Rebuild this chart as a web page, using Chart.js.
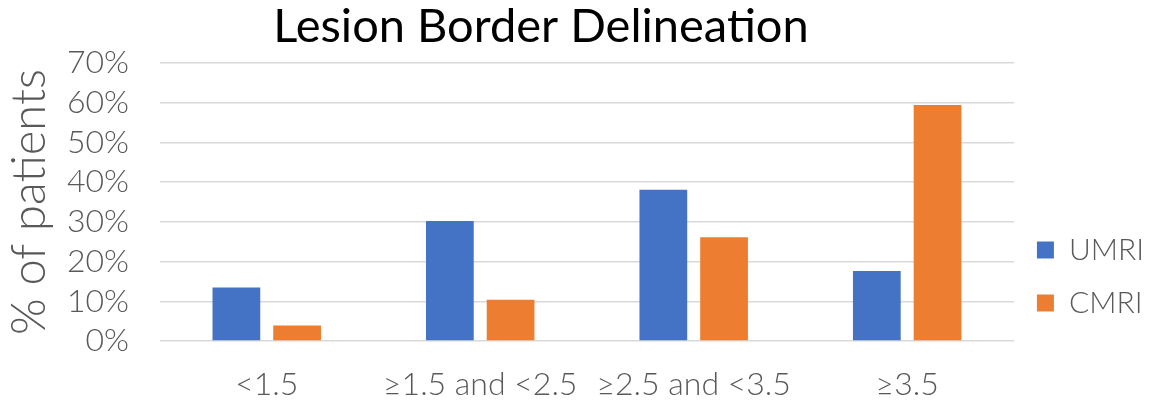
<!DOCTYPE html>
<html>
<head>
<meta charset="utf-8">
<script src="https://cdn.jsdelivr.net/npm/chart.js@4/dist/chart.umd.min.js"></script>
<style>
  html, body { margin: 0; padding: 0; background: #fff; }
  #wrap { width: 1150px; height: 401px; }
</style>
</head>
<body>
<div id="wrap"><canvas id="c" width="1150" height="401"></canvas></div>
<script>
// Border score categories and share of patients (%) per imaging method
const categories = ['<1.5', '\u22651.5 and <2.5', '\u22652.5 and <3.5', '\u22653.5'];
const umri = [13.5, 30.2, 38.1, 17.6];
const cmri = [3.9, 10.4, 26.1, 59.4];
const yTicks = [0, 10, 20, 30, 40, 50, 60, 70];
const chartTitle = 'Lesion Border Delineation';

const GRAY = '#595959';

// Title drawn left of the full-width centre, as in the original layout
const offsetTitle = {
  id: 'offsetTitle',
  afterDraw(chart) {
    const ctx = chart.ctx;
    ctx.save();
    ctx.font = '400 47px Lato';
    ctx.fillStyle = '#000';
    ctx.textAlign = 'center';
    ctx.textBaseline = 'alphabetic';
    ctx.fillText(chartTitle, 541, 42);
    ctx.restore();
  }
};

new Chart(document.getElementById('c'), {
  type: 'bar',
  data: {
    labels: categories,
    datasets: [
      { label: 'UMRI', data: umri, backgroundColor: '#4472C4', borderWidth: 0 },
      { label: 'CMRI', data: cmri, backgroundColor: '#ED7D31', borderWidth: 0 }
    ]
  },
  options: {
    responsive: false,
    animation: false,
    devicePixelRatio: 1,
    categoryPercentage: 0.569,
    barPercentage: 0.786,
    layout: { padding: { top: 63, right: -4, left: 0, bottom: 0 } },
    plugins: {
      title: { display: false },
      tooltip: { enabled: false },
      legend: {
        position: 'right',
        align: 'end',
        fullSize: false,
        labels: {
          boxWidth: 17,
          boxHeight: 17,
          padding: 23,
          color: GRAY,
          font: { family: 'Lato', weight: '300', size: 30 }
        }
      }
    },
    scales: {
      x: {
        grid: { display: false, drawTicks: false },
        border: { display: false },
        afterFit(axis) { axis.height = 60; },
        ticks: {
          color: GRAY,
          padding: 28,
          maxRotation: 0,
          autoSkip: false,
          font: { family: 'Lato', weight: '300', size: 32, lineHeight: 1 }
        }
      },
      y: {
        min: 0,
        max: 70,
        afterBuildTicks(axis) { axis.ticks = yTicks.map(v => ({ value: v })); },
        afterFit(axis) { axis.width = 160; },
        grid: { color: '#D9D9D9', lineWidth: 1.5, drawTicks: false },
        border: { display: false },
        ticks: {
          color: GRAY,
          padding: 31,
          autoSkip: false,
          font: { family: 'Lato', weight: '300', size: 32 },
          callback: v => v + '%'
        },
        title: {
          display: true,
          text: '% of patients',
          color: GRAY,
          padding: { top: 2, bottom: 0 },
          font: { family: 'Lato', weight: '300', size: 47, lineHeight: 1.2 }
        }
      }
    }
  },
  plugins: [offsetTitle]
});
</script>
</body>
</html>
